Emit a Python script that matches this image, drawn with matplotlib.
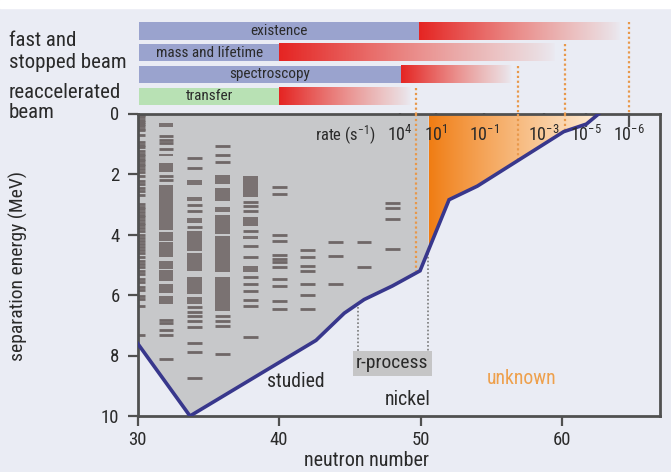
import numpy as np
import matplotlib
matplotlib.use("Agg")
import matplotlib.pyplot as plt
from matplotlib.patches import Polygon, Rectangle
from matplotlib import font_manager

# ---------------- fonts ----------------
_names = {f.name for f in font_manager.fontManager.ttflist}
FONT = "DejaVu Sans"
for cand in ["Liberation Sans Narrow", "Roboto Condensed", "Liberation Sans"]:
    if cand in _names:
        FONT = cand
        break
plt.rcParams['font.family'] = [FONT, 'DejaVu Sans']
plt.rcParams['mathtext.default'] = 'regular'

# ---------------- data ----------------
# boundary of the known region (neutron number, separation energy MeV)
boundary_n = [30.0, 33.7, 42.6, 44.6, 46.0, 48.0, 49.95, 52.0, 54.0, 60.1, 61.7, 62.6, 63.2]
boundary_e = [7.6, 10.0, 7.5, 6.6, 6.15, 5.7, 5.2, 2.85, 2.4, 0.6, 0.35, 0.0, -0.6]
studied_edge_n = 50.56

# level schemes per even neutron number: single levels and dense groups (MeV)
level_cols = [30, 32, 34, 36, 38, 40, 42, 44, 46, 48]
lines_n30 = [0.05, 0.12, 0.2, 0.28, 0.35, 0.42, 0.5, 0.56, 0.72, 0.95, 1.03, 1.1, 1.25, 1.33,
             1.41, 1.5, 1.58, 1.66, 1.75, 1.84, 1.93, 2.05, 2.24, 2.34, 2.45, 2.56, 2.7, 3.0,
             3.08, 3.16, 3.25, 3.34, 3.43, 3.52, 3.61, 3.7, 3.79, 3.9, 4.0, 4.1, 4.2, 4.3, 4.4,
             4.5, 4.62, 4.74, 4.86, 4.97, 5.08, 5.22, 5.3, 5.47, 5.57, 5.75, 5.85, 6.03, 6.13,
             6.36, 7.33]
lines_n32 = [0.76, 0.86, 0.97, 1.17, 2.05, 2.19, 6.82, 6.94, 7.16, 7.32, 8.12]
lines_n34 = [1.47, 1.8, 3.02, 3.23, 3.76, 6.41, 6.55, 6.7, 6.85, 7.05, 7.6, 7.88, 8.76]
lines_n36 = [1.08, 1.37, 1.61, 6.69, 6.85, 7.02, 7.96]
lines_n38 = [2.94, 3.05, 3.21, 3.87, 4.37, 4.74, 5.42, 5.62, 5.88, 6.16, 6.36, 7.4]
lines_n40 = [2.42, 2.66, 4.0, 4.23, 4.67, 4.81, 4.92, 5.07, 5.47, 5.7, 6.19, 6.45]
lines_n42 = [4.51, 4.74, 5.03, 5.2, 5.64, 6.0, 6.45]
lines_n44 = [4.24, 4.72, 5.62]
lines_n46 = [4.24, 5.06]
lines_n48 = [2.97, 3.12, 3.49, 4.48]
bands_n30 = []
bands_n32 = [(0.33, 0.44), (1.33, 1.42), (1.65, 1.94), (2.35, 3.85), (3.92, 4.2), (4.25, 4.76),
             (4.87, 5.13), (5.17, 5.53), (5.62, 5.93), (6.03, 6.3)]
bands_n34 = [(2.2, 2.36), (2.75, 2.9), (3.46, 3.63), (3.9, 4.55), (4.6, 5.2), (5.42, 5.97),
             (6.05, 6.3)]
bands_n36 = [(2.02, 2.32), (2.45, 2.88), (3.1, 3.25), (3.35, 4.0), (4.05, 5.25), (5.42, 6.52)]
bands_n38 = [(2.05, 2.77), (3.43, 3.71), (4.05, 4.14), (5.03, 5.25)]
bands_n40 = []
bands_n42 = []
bands_n44 = []
bands_n46 = []
bands_n48 = []
level_lines = [lines_n30, lines_n32, lines_n34, lines_n36, lines_n38,
               lines_n40, lines_n42, lines_n44, lines_n46, lines_n48]
level_bands = [bands_n30, bands_n32, bands_n34, bands_n36, bands_n38,
               bands_n40, bands_n42, bands_n44, bands_n46, bands_n48]

# production-rate scale on top axis
rate_n = [48.5, 51.1, 54.45, 58.7, 61.7, 64.7]
rate_labels = ['$10^{4}$', '$10^{1}$', '$10^{-1}$', '$10^{-3}$', '$10^{-5}$', '$10^{-6}$']

# measurement reach bars
bar_names = ['existence', 'mass and lifetime', 'spectroscopy', 'transfer']
bar_start = [30.1, 30.1, 30.1, 30.1]
bar_solid_end = [49.86, 40.0, 48.6, 40.0]
bar_fade_end = [64.1, 59.5, 56.4, 49.3]
bar_kind = ['fast', 'fast', 'fast', 'reacc']
probe_n = [64.7, 60.2, 56.85, 49.7]
probe_e = [0.0, 0.6, 1.55, 5.2]

rprocess_n = [45.55, 50.5]
rprocess_top_e = [6.4, 4.6]

# ---------------- style ----------------
BG = '#eaecf4'
GRAY = '#c7c8ca'
LEVEL = '#6f6767'
BAND = '#7a7272'
NAVY = '#38378c'
SPINE = '#505050'
TXT = '#2a2a2a'
BLUE_BAR = '#9aa3ce'
GREEN_BAR = '#b8e1b4'
DOT_OR = '#e8984a'

W, H = 671, 472
fig = plt.figure(figsize=(W / 100, H / 100), dpi=100, facecolor=BG)
fig.patches.append(Rectangle((0, 1 - 8 / H), 1, 8 / H, transform=fig.transFigure,
                             color='white', zorder=0))

x0, x1 = 137.6, 660.0
ytop, ybot = 113.5, 416.0
ax = fig.add_axes([x0 / W, 1 - ybot / H, (x1 - x0) / W, (ybot - ytop) / H])
ax.set_facecolor(BG)
axt = fig.add_axes([x0 / W, 1 - ytop / H, (x1 - x0) / W, (ytop - 20) / H])
axt.set_facecolor('none')
axt.axis('off')

XMIN, XMAX = 30, 66.9
ax.set_xlim(XMIN, XMAX)
ax.set_ylim(10, 0)
axt.set_xlim(XMIN, XMAX)
axt.set_ylim(3.79, -0.5)

# ---- studied (gray) region ----
bn = np.array(boundary_n)
be = np.array(boundary_e)
e_edge = np.interp(studied_edge_n, bn, be)
left_mask = bn < studied_edge_n
studied_pts = [(XMIN, 0), (studied_edge_n, 0), (studied_edge_n, e_edge)]
studied_pts += list(zip(bn[left_mask][::-1], be[left_mask][::-1]))
ax.add_patch(Polygon(studied_pts, closed=True, facecolor=GRAY, edgecolor='none', zorder=1))

# ---- unknown (orange gradient) region ----
right_mask = (bn > studied_edge_n) & (be > 0)
seg_n = bn[bn > studied_edge_n]
seg_e = be[bn > studied_edge_n]
n_zero = np.interp(0.0, seg_e[::-1], seg_n[::-1])
orange_pts = [(studied_edge_n, 0), (studied_edge_n, e_edge)]
orange_pts += list(zip(bn[right_mask], be[right_mask]))
orange_pts += [(n_zero, 0)]
opoly = Polygon(orange_pts, closed=True, facecolor='none', edgecolor='none', zorder=1)
ax.add_patch(opoly)
t = np.linspace(0, 1, 256)
c0 = np.array([240, 124, 18]) / 255
c1 = np.array([253, 236, 214]) / 255
grad = (c0[None, :] + (c1 - c0)[None, :] * (t[:, None] ** 0.9))[None, :, :]
im = ax.imshow(grad, extent=(studied_edge_n, n_zero, e_edge, 0), aspect='auto',
               interpolation='bilinear', zorder=1)
im.set_clip_path(opoly)

# ---- level schemes ----
for n, lines, bands in zip(level_cols, level_lines, level_bands):
    ax.hlines(lines, n - 0.52, n + 0.52, color=LEVEL, lw=2.0, zorder=2)
    if bands:
        lo = np.array([b[0] for b in bands])
        hi = np.array([b[1] for b in bands])
        ax.bar([n] * len(bands), hi - lo, bottom=lo, width=1.04, color=BAND,
               edgecolor='none', zorder=2)

# ---- boundary line ----
ax.plot(boundary_n, boundary_e, color=NAVY, lw=2.6, zorder=4, solid_joinstyle='miter')

# ---- r-process markers ----
for n, e in zip(rprocess_n, rprocess_top_e):
    ax.vlines(n, e, 7.92, color='#7a7a7a', lw=1.2, linestyles=(0, (1, 1.3)), zorder=3)
ax.text(48.0, 8.25, 'r-process', ha='center', va='center', fontsize=14, color=TXT,
        bbox=dict(boxstyle='square,pad=0.18', fc='#c5c5c6', ec='none'), zorder=5)

# ---- region labels ----
ax.text(41.2, 8.87, 'studied', ha='center', va='center', fontsize=14.2, color=TXT, zorder=5)
ax.text(49.1, 9.47, 'nickel', ha='center', va='center', fontsize=14.2, color=TXT, zorder=5)
ax.text(57.1, 8.77, 'unknown', ha='center', va='center', fontsize=14.2, color='#eea04c', zorder=5)

# ---- rate scale ----
sec = ax.secondary_xaxis('top')
sec.set_xticks(rate_n)
sec.set_xticklabels([])
sec.tick_params(direction='in', length=10, width=1.6, color=SPINE)
for sp in sec.spines.values():
    sp.set_visible(False)
for n, lab in zip(rate_n, rate_labels):
    ax.text(n, 0.72, lab, ha='center', va='center', fontsize=13, color=TXT, zorder=5)
ax.text(44.7, 0.72, 'rate (s$^{-1}$)', ha='center', va='center', fontsize=12,
        color=TXT, zorder=5)

# ---- measurement bars ----
rows = np.arange(len(bar_names))
for r, name, s, se, fe, kind in zip(rows, bar_names, bar_start, bar_solid_end,
                                   bar_fade_end, bar_kind):
    col = BLUE_BAR if kind == 'fast' else GREEN_BAR
    axt.barh(r, se - s, left=s, height=0.8, color=col, edgecolor='none', zorder=2)
    tt = np.linspace(0, 1, 256)
    r0 = np.array([229, 36, 34]) / 255
    r1 = np.array([240, 150, 135]) / 255
    rgba = np.zeros((1, 256, 4))
    rgba[0, :, :3] = r0 + (r1 - r0) * (tt[:, None] ** 1.1)
    rgba[0, :, 3] = (1 - tt) ** 0.65
    axt.imshow(rgba, extent=(se, fe, r + 0.4, r - 0.4), aspect='auto',
               interpolation='bilinear', zorder=2)
    axt.text((s + se) / 2, r, name, ha='center', va='center', fontsize=11, color=TXT, zorder=3)
axt.set_xlim(XMIN, XMAX)
axt.set_ylim(3.79, -0.5)
for r, n, e in zip(rows, probe_n, probe_e):
    axt.vlines(n, r - 0.4, 3.79, color=DOT_OR, lw=1.6, linestyles=(0, (1, 1.2)), zorder=1)
    if e > 0:
        ax.vlines(n, 0, e, color=DOT_OR, lw=1.6, linestyles=(0, (1, 1.2)), zorder=3)

ax.set_xlim(XMIN, XMAX)
ax.set_ylim(10, 0)

# ---- axes styling ----
for sp in ax.spines.values():
    sp.set_color(SPINE)
    sp.set_linewidth(2)
ax.set_xticks([30, 40, 50, 60])
ax.set_yticks([0, 2, 4, 6, 8, 10])
ax.tick_params(axis='both', direction='out', length=7, width=1.6, color=SPINE,
               labelsize=13.5, labelcolor=TXT)
ax.tick_params(axis='y', pad=6)
ax.tick_params(axis='x', pad=4)

fig.text(367 / W, 1 - 461 / H, 'neutron number', ha='center', va='center', fontsize=14.5,
         color=TXT)
fig.text(18 / W, 1 - 266 / H, 'separation energy (MeV)', ha='center', va='center',
         fontsize=14, color=TXT, rotation=90)

for txt, py in [('fast and', 40), ('stopped beam', 62), ('reaccelerated', 92), ('beam', 113)]:
    fig.text(9 / W, 1 - py / H, txt, ha='left', va='center', fontsize=15, color=TXT)

fig.savefig('out.png', dpi=100, facecolor=BG)
